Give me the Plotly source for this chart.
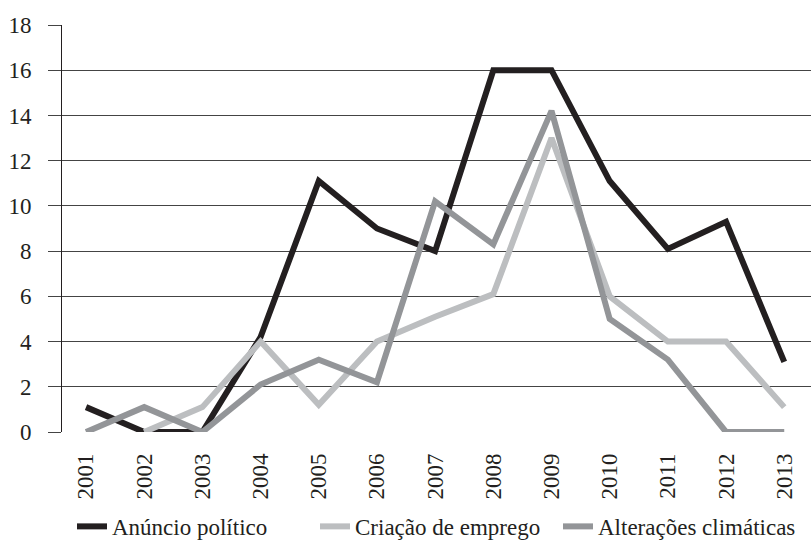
import plotly.graph_objects as go

years = [2001, 2002, 2003, 2004, 2005, 2006, 2007, 2008, 2009, 2010, 2011, 2012, 2013]
anuncio = [1.1, 0, 0, 4.2, 11.1, 9.0, 8.0, 16.0, 16.0, 11.1, 8.1, 9.3, 3.1]
criacao = [None, 0, 1.1, 4.0, 1.2, 4.0, 5.1, 6.1, 13.0, 6.0, 4.0, 4.0, 1.1]
alteracoes = [0, 1.1, 0, 2.1, 3.2, 2.2, 10.2, 8.3, 14.2, 5.0, 3.2, 0, 0]

series = [
    ("Anúncio político", anuncio, "#231f20"),
    ("Criação de emprego", criacao, "#bcbec0"),
    ("Alterações climáticas", alteracoes, "#939598"),
]

FONT = "Liberation Serif, Times New Roman, serif"
fig = go.Figure()
for name, vals, col in series:
    fig.add_trace(go.Scatter(x=years, y=vals, name=name, mode="lines",
                             line=dict(color=col, width=6), connectgaps=False))

fig.update_layout(
    width=812, height=549,
    margin=dict(l=62, r=1, t=25, b=114),
    plot_bgcolor="white", paper_bgcolor="white",
    font=dict(family=FONT, size=23, color="#231f20"),
    showlegend=True,
    legend=dict(orientation="h", x=0.5, xanchor="center",
                y=-0.232, yanchor="middle",
                font=dict(family=FONT, size=23, color="#231f20"),
                entrywidth=198, tracegroupgap=0),
)
fig.update_xaxes(
    range=[2000.587, 2013.46], tickmode="array", tickvals=years,
    ticktext=[str(y) for y in years], tickangle=-90,
    showgrid=False, zeroline=False, showline=False, ticks="",
    ticklabelstandoff=16,
    tickfont=dict(family=FONT, size=23, color="#231f20"),
)
fig.update_yaxes(
    range=[0, 18], tickvals=list(range(0, 19, 2)),
    showgrid=True, gridcolor="#444444", gridwidth=1,
    zeroline=False, showline=True, linecolor="#231f20", linewidth=1,
    ticks="outside", ticklen=13, tickcolor="#444444", tickwidth=1,
    ticklabelstandoff=12,
    tickfont=dict(family=FONT, size=23, color="#231f20"),
)
fig.write_html("out.html", config={"displayModeBar": False},
               post_script="document.body.style.margin='0';")
